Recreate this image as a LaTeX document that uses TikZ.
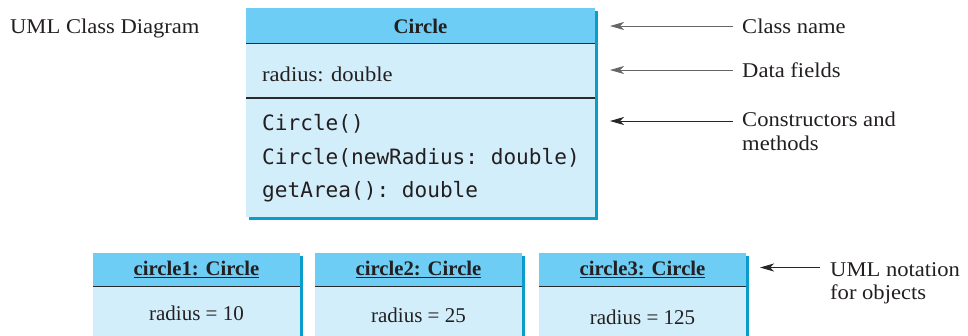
\documentclass[tikz,border=0pt]{standalone}
\usepackage{fontspec}
\setmainfont{Liberation Serif}
\setmonofont{DejaVu Sans Mono}
\newfontfamily\wideserif{Liberation Serif}[FakeStretch=1.075]
\usetikzlibrary{arrows.meta}
\definecolor{hdr}{HTML}{6DCDF5}
\definecolor{bdy}{HTML}{D3EEFB}
\definecolor{shd}{HTML}{0A9CCB}
\definecolor{sep}{HTML}{2A2A2A}
\definecolor{ink}{HTML}{231F20}
\begin{document}
\begin{tikzpicture}[x=1pt,y=-1pt,
  txt/.style={font=\fontsize{21}{24}\selectfont, inner sep=0pt, text=ink},
  lbl/.style={txt, font=\wideserif\fontsize{21}{24}\selectfont, anchor=base west},
  btxt/.style={font=\bfseries\fontsize{20.7}{24}\selectfont, inner sep=0pt, text=ink, anchor=base},
  mono/.style={font=\ttfamily\fontsize{21.1}{24}\selectfont, inner sep=0pt, text=ink, anchor=base west},
  hbox/.style={fill=hdr, draw=none, inner sep=0pt, anchor=north west},
  bbox/.style={fill=bdy, draw=none, inner sep=0pt, anchor=north west},
  sbox/.style={fill=shd, draw=none, inner sep=0pt, anchor=north west},
  sepline/.style={draw=sep, line width=1.4pt},
  arr/.style={draw=black!85, line width=0.9pt, -{Stealth[length=14pt,width=8pt,inset=4pt]}},
  garr/.style={arr, draw=black!60},
]
\useasboundingbox (0,0) rectangle (968,335);

% ---------- class box ----------
\node[sbox, minimum width=349pt, minimum height=209pt] (clsS) at (249,10.5) {};
\node[bbox, minimum width=349pt, minimum height=209pt] (clsB) at (246,7.5) {};
\node[hbox, minimum width=349pt, minimum height=35.5pt] (clsH) at (246,7.5) {};
\draw[sepline] (clsH.south west) -- (clsH.south east);
\coordinate (sepA) at (246,98);
\coordinate (sepB) at (595,98);
\draw[sepline] (sepA) -- (sepB);

\node[btxt] (clsname) at (420.5,33) {Circle};
\node[lbl] (field) at (262,81.5) {radius: double};
\node[mono] (m1) at (262,130) {Circle()};
\node[mono] (m2) at (262,164.5) {Circle(newRadius: double)};
\node[mono] (m3) at (262,197.5) {getArea(): double};

\node[lbl] (title) at (10,33) {UML Class Diagram};

% ---------- annotations ----------
\node[lbl] (lclass) at (742,33) {Class name};
\node[lbl] (lfield) at (742,77.5) {Data fields};
\node[lbl] (lcons) at (742,126.5) {Constructors and};
\node[lbl] (lmeth) at (742,150.5) {methods};
\coordinate (tclass) at (610,26);
\coordinate (tfield) at (610,70);
\coordinate (tcons) at (610,121);
\draw[garr] (733,26) -- (tclass);
\draw[garr] (733,70) -- (tfield);
\draw[arr] (733,121) -- (tcons);

% ---------- object boxes ----------
\foreach \n/\x/\v/\vy in {1/93/10/320, 2/315/25/322.5, 3/539/125/324.5}{
  \node[sbox, minimum width=207pt, minimum height=100pt] (o\n S) at (\x+3,255.5) {};
  \node[bbox, minimum width=207pt, minimum height=100pt] (o\n B) at (\x,252.5) {};
  \node[hbox, minimum width=207pt, minimum height=33.5pt] (o\n H) at (\x,252.5) {};
  \draw[sepline] (o\n H.south west) -- (o\n H.south east);
  \node[btxt] (o\n name) at (\x+103.5,275.5) {\underline{circle\n: Circle}};
  \node[txt, anchor=base] (o\n val) at (\x+103.5,\vy) {radius = \v};
}

\node[lbl] (lobj1) at (830,276) {UML notation};
\node[lbl] (lobj2) at (830,299.5) {for objects};
\coordinate (tobj) at (760,267.5);
\draw[arr] (820,267.5) -- (tobj);
\end{tikzpicture}
\end{document}
